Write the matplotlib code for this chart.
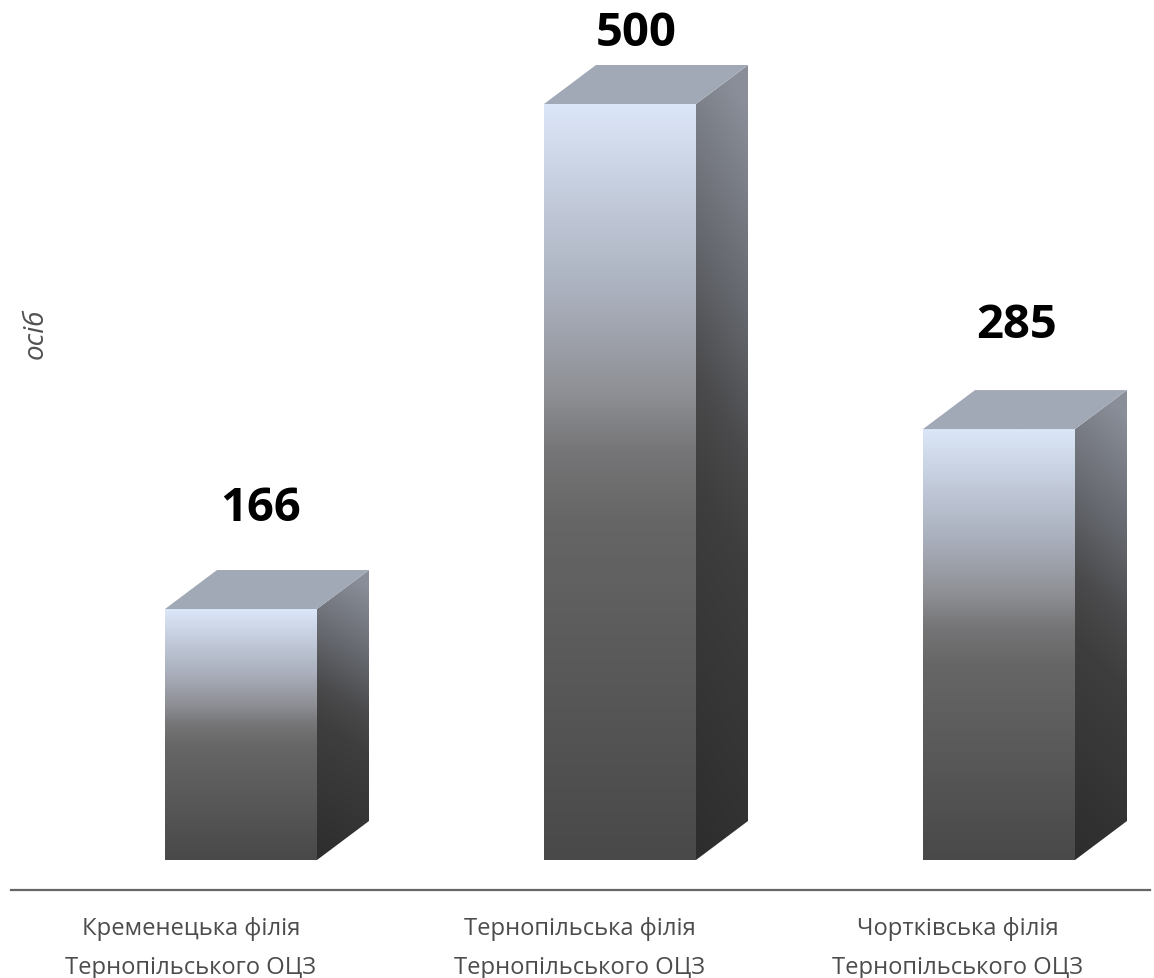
import numpy as np
import matplotlib
matplotlib.use("Agg")
import matplotlib.pyplot as plt
from matplotlib.colors import LinearSegmentedColormap
from matplotlib.patches import Polygon

plt.rcParams["font.family"] = ["Open Sans", "DejaVu Sans"]

# Data
CATEGORIES = ["Кременецька філія\nТернопільського ОЦЗ",
              "Тернопільська філія\nТернопільського ОЦЗ",
              "Чортківська філія\nТернопільського ОЦЗ"]
VALUES = [166, 500, 285]
VALUE_LABELS = ["166", "500", "285"]
UNIT = "осіб"

# Layout in pixels of the 1154x979 picture
W, H = 1154, 979
BASE_Y = 861
PX_PER_UNIT = 756 / 500
PX_PER_CAT = 379
FIRST_X = 241
BAR_W = 152
DEPTH_X, DEPTH_Y = 52, 39
VALUE_DX = [20, 16, 18]
VALUE_GAP = [102, 71, 105]
CAT_DX = [-50, -40, -41]

front_cmap = LinearSegmentedColormap.from_list(
    "front", [(0, "#dbe6f8"), (0.25, "#aab0bd"), (0.38, "#8f9095"), (0.46, "#757577"),
              (0.55, "#666666"), (1, "#494949")])
side_cmap = LinearSegmentedColormap.from_list(
    "side", [(0, "#8a8e98"), (0.25, "#64676d"), (0.42, "#4a4a4c"), (0.55, "#3e3e3e"), (1, "#2d2d2d")])
TOP_COLOR = "#a2a9b6"

fig = plt.figure(figsize=(W / 100, H / 100), dpi=100)
ax = fig.add_axes([0, 0, 1, 1])
ax.axis("off")
xlim = (-FIRST_X / PX_PER_CAT, (W - FIRST_X) / PX_PER_CAT)
ylim = ((BASE_Y - H) / PX_PER_UNIT, BASE_Y / PX_PER_UNIT)


def gradient_face(verts, field, cmap):
    # paint a gradient image and clip it to the face polygon
    xs, ys = zip(*verts)
    extent = (min(xs), max(xs), min(ys), max(ys))
    im = ax.imshow(field, extent=extent, origin="upper", aspect="auto", cmap=cmap,
                   vmin=0, vmax=1, interpolation="bilinear", zorder=2)
    im.set_clip_path(Polygon(verts, transform=ax.transData))


dx = DEPTH_X / PX_PER_CAT
dy = DEPTH_Y / PX_PER_UNIT
half = BAR_W / 2 / PX_PER_CAT

for i, (value, text) in enumerate(zip(VALUES, VALUE_LABELS)):
    left, right = i - half, i + half

    # front face, light at the top and dark at the bottom
    front = [(left, 0), (right, 0), (right, value), (left, value)]
    field = np.linspace(0, 1, 256).reshape(-1, 1)
    gradient_face(front, field, front_cmap)

    # side face, gradient runs slightly diagonal
    side = [(right, 0), (right + dx, dy), (right + dx, value + dy), (right, value)]
    yy, xx = np.mgrid[0:1:256j, 0:1:64j]
    field = np.clip(yy * 0.95 + (0.5 - xx) * 0.1, 0, 1)
    gradient_face(side, field, side_cmap)

    # top face
    top = [(left, value), (right, value), (right + dx, value + dy), (left + dx, value + dy)]
    ax.add_patch(Polygon(top, closed=True, facecolor=TOP_COLOR, edgecolor="none", zorder=3))

    ax.text(i + VALUE_DX[i] / PX_PER_CAT, value + VALUE_GAP[i] / PX_PER_UNIT, text,
            ha="center", va="center", fontsize=34, fontweight="bold", color="black", zorder=4)
    ax.text(i + CAT_DX[i] / PX_PER_CAT, -87.5 / PX_PER_UNIT, CATEGORIES[i], ha="center", va="center",
            fontsize=17.1, color="#4c4c4c", linespacing=1.8, zorder=4)

# baseline
ax.plot([(11 - FIRST_X) / PX_PER_CAT, (1150 - FIRST_X) / PX_PER_CAT],
        [-30 / PX_PER_UNIT, -30 / PX_PER_UNIT], color="#666666", lw=1.6, zorder=1)

ax.text((36 - FIRST_X) / PX_PER_CAT, (BASE_Y - 334) / PX_PER_UNIT, UNIT, rotation=90,
        ha="center", va="center", fontsize=20, fontstyle="italic", color="#505050")

ax.set_xlim(xlim)
ax.set_ylim(ylim)
fig.savefig("out.png", dpi=100)
